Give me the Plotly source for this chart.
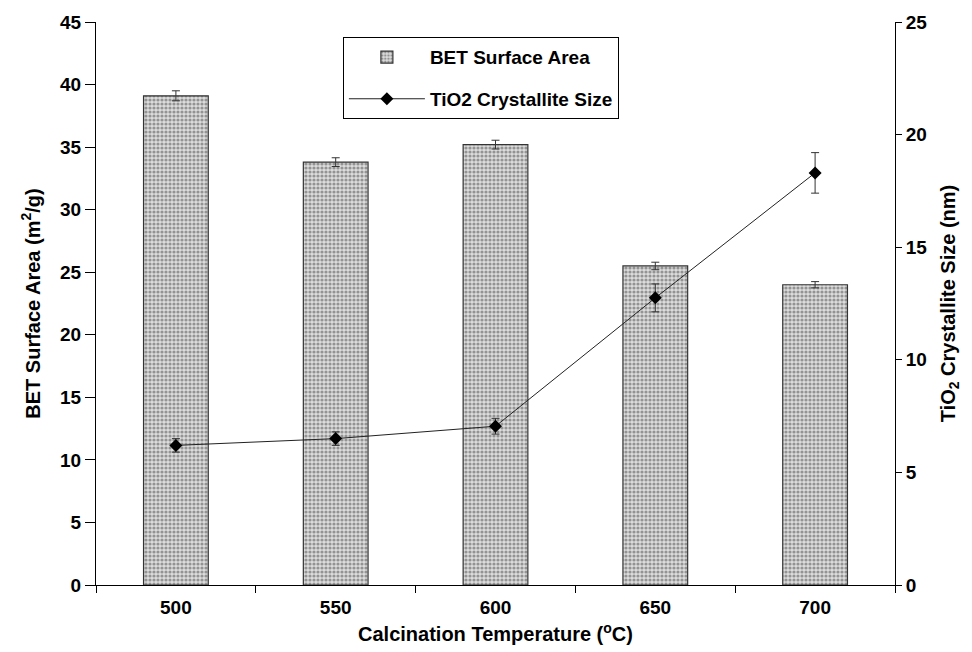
import plotly.graph_objects as go

temps = ["500", "550", "600", "650", "700"]
bet_area = [39.1, 33.8, 35.2, 25.5, 24.0]
bet_err = [0.4, 0.35, 0.35, 0.3, 0.25]
cryst_size = [6.2, 6.5, 7.05, 12.75, 18.3]
cryst_err = [0.3, 0.3, 0.35, 0.62, 0.9]

FONT = "Liberation Sans, Arial, sans-serif"

fig = go.Figure()
fig.add_trace(go.Bar(
    x=temps, y=bet_area, name="<b>BET Surface Area</b>", legendgroup="a",
    marker=dict(color="#c8c8c8", line=dict(color="#333333", width=1.2),
                pattern=dict(shape=".", fgcolor="#4a4a4a", bgcolor="#dcdcdc",
                             size=4, solidity=0.5)),
    error_y=dict(type="data", array=bet_err, color="#333333", thickness=1, width=4),
    yaxis="y",
))
fig.add_trace(go.Scatter(
    x=temps, y=cryst_size, name="<b>TiO2 Crystallite Size</b>", legendgroup="b",
    mode="lines+markers",
    line=dict(color="#222222", width=1),
    marker=dict(symbol="diamond", size=10, color="black"),
    error_y=dict(type="data", array=cryst_err, color="#333333", thickness=1, width=4),
    yaxis="y2",
))

tickfont = dict(family=FONT, size=19, color="black", weight="bold")
titlefont = dict(family=FONT, size=20, color="black", weight="bold")

fig.update_layout(
    width=972, height=652,
    margin=dict(l=88, r=85, t=14, b=75, autoexpand=False),
    plot_bgcolor="white", paper_bgcolor="white",
    bargap=0.595,
    showlegend=True,
    legend=dict(x=0.309, y=0.973, xanchor="left", yanchor="top",
                bordercolor="black", borderwidth=1, bgcolor="white",
                font=dict(family=FONT, size=19, color="black", weight="bold"),
                itemwidth=76, tracegroupgap=14),
    xaxis=dict(type="category", tickson="boundaries", ticks="outside", ticklen=7,
               tickcolor="black", showline=True, linecolor="black", linewidth=1,
               showgrid=False, tickfont=tickfont, automargin=False, ticklabelstandoff=5,
               title=dict(text="<b>Calcination Temperature (<sup>o</sup>C)</b>", font=titlefont, standoff=10)),
    yaxis=dict(range=[0, 45], dtick=5, ticks="outside", ticklen=10, tickcolor="black",
               showline=True, linecolor="black", linewidth=1, showgrid=False, zeroline=False,
               tickfont=tickfont, automargin=False,
               title=dict(text="<b>BET Surface Area (m<sup>2</sup>/g)</b>", font=titlefont, standoff=14)),
    yaxis2=dict(range=[0, 25], dtick=5, overlaying="y", side="right", ticks="outside",
                ticklen=6, tickcolor="black", showline=True, linecolor="black", linewidth=1,
                showgrid=False, zeroline=False, tickfont=tickfont, automargin=False,
                title=dict(text="<b>TiO<sub>2</sub> Crystallite Size (nm)</b>", font=titlefont, standoff=14)),
)

fig.write_html("out.html")
